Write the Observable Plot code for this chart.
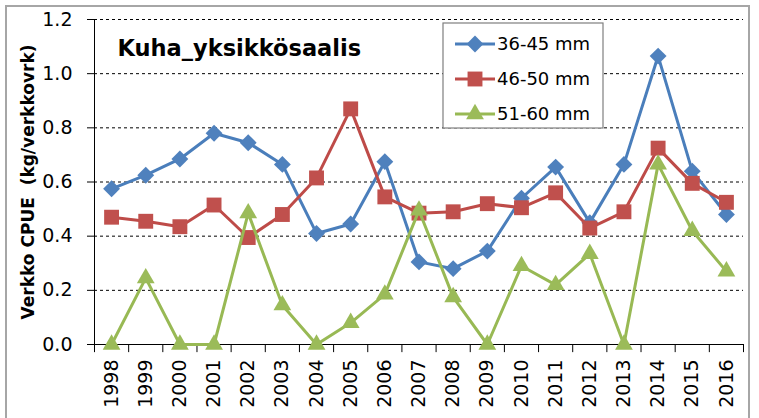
<!DOCTYPE html>
<html>
<head>
<meta charset="utf-8">
<script src="https://cdn.jsdelivr.net/npm/d3@7"></script>
<script src="https://cdn.jsdelivr.net/npm/@observablehq/plot@0.6"></script>
<style>
  html, body { margin: 0; padding: 0; background: #fff; }
  #wrap { position: relative; width: 759px; height: 418px; overflow: hidden; }
  #frame { position: absolute; left: 5px; top: 5px; width: 745px; height: 430px;
           border: 2px solid #a6a6a6; pointer-events: none; box-sizing: border-box; }
</style>
</head>
<body>
<div id="wrap"><div id="frame"></div></div>
<script>
const years = [1998,1999,2000,2001,2002,2003,2004,2005,2006,2007,2008,2009,2010,2011,2012,2013,2014,2015,2016];
const s36_45 = [0.575,0.625,0.685,0.78,0.745,0.665,0.41,0.445,0.675,0.305,0.28,0.345,0.54,0.655,0.45,0.665,1.065,0.64,0.48];
const s46_50 = [0.47,0.455,0.435,0.515,0.395,0.48,0.615,0.87,0.545,0.485,0.49,0.52,0.505,0.56,0.43,0.49,0.725,0.595,0.525];
const s51_60 = [0.0,0.245,0.0,0.0,0.485,0.145,0.0,0.08,0.185,0.495,0.175,0.0,0.29,0.22,0.335,0.0,0.665,0.42,0.27];
const seriesNames = ["36-45 mm","46-50 mm","51-60 mm"];
const seriesValues = [s36_45, s46_50, s51_60];
const lineColors = ["#4A7EBB","#BE4B48","#98B954"];
const fillColors = ["#4F81BD","#C0504D","#9BBB59"];
const symbols = ["diamond2","square","triangle"];
const radii = [7.6, 8.4, 6.6];
const yTicks = [0,0.2,0.4,0.6,0.8,1.0,1.2];
const gridTicks = [0.2,0.4,0.6,0.8,1.0,1.2];
const title = "Kuha_yksikkösaalis";
const yLabel = "Verkko CPUE\u00a0\u00a0(kg/verkkovrk)";

const FONT = "DejaVu Sans";
const boundaries = years.map(y => y - 0.5).concat([years[years.length - 1] + 0.5]);
const xDomain = [boundaries[0], boundaries[boundaries.length - 1]];

const seriesMarks = [];
seriesValues.forEach((vals, i) => {
  const rows = years.map((y, j) => ({year: y, value: vals[j]}));
  seriesMarks.push(Plot.line(rows, {x: "year", y: "value", stroke: lineColors[i], strokeWidth: 3, strokeLinejoin: "round"}));
  seriesMarks.push(Plot.dot(rows, {x: "year", y: "value", symbol: () => symbols[i], fill: fillColors[i], stroke: "none", r: radii[i]}));
});

const chart = Plot.plot({
  width: 759,
  height: 418,
  marginLeft: 94,
  marginRight: 16,
  marginTop: 19,
  marginBottom: 74,
  style: {fontFamily: FONT, fontSize: "19px", background: "transparent", overflow: "visible"},
  x: {type: "linear", domain: xDomain, axis: null},
  y: {type: "linear", domain: [0, 1.2], axis: null},
  symbol: {type: "identity"},
  marks: [
    Plot.ruleY(gridTicks, {x1: xDomain[0], x2: xDomain[1], stroke: "#000", strokeWidth: 1, strokeDasharray: "3,3"}),
    Plot.ruleX(boundaries, {y1: 0, y2: -0.03, stroke: "#000", strokeWidth: 1}),
    Plot.ruleX([xDomain[0]], {y1: 0, y2: 1.2, stroke: "#000", strokeWidth: 1}),
    Plot.ruleY([0], {x1: xDomain[0], x2: xDomain[1], stroke: "#000", strokeWidth: 1}),
    Plot.axisY({ticks: yTicks, tickFormat: d3.format(".1f"), tickSize: 7, tickPadding: 15, label: null, fontSize: 19, fontFamily: FONT, stroke: "#000"}),
    Plot.axisX({ticks: years, tickFormat: d => String(d), tickSize: 0, tickPadding: 15, tickRotate: -90, label: null, fontSize: 19, fontFamily: FONT}),
    ...seriesMarks,
    Plot.text([yLabel], {frameAnchor: "left", dx: -66, rotate: -90, textAnchor: "middle", fontWeight: "bold", fontSize: 17, fontFamily: FONT, fill: "#000"}),
    Plot.text([title], {frameAnchor: "top-left", dx: 23, dy: 29, textAnchor: "start", lineAnchor: "middle", fontWeight: "bold", fontSize: 22.5, fontFamily: FONT, fill: "#000"})
  ]
});

document.getElementById("wrap").insertBefore(chart, document.getElementById("frame"));

// Legend box drawn inside the chart SVG
const svg = d3.select(chart);
const lg = svg.append("g").attr("transform", "translate(443,23)");
lg.append("rect").attr("x", 0).attr("y", 0).attr("width", 160).attr("height", 105)
  .attr("fill", "#fff").attr("stroke", "#7f7f7f").attr("stroke-width", 1.2);
const symMap = {diamond2: d3.symbolDiamond2, square: d3.symbolSquare, triangle: d3.symbolTriangle};
seriesNames.forEach((name, i) => {
  const cy = 21 + i * 35;
  const row = lg.append("g").attr("transform", `translate(0,${cy})`);
  row.append("line").attr("x1", 12).attr("x2", 52).attr("y1", 0).attr("y2", 0)
    .attr("stroke", lineColors[i]).attr("stroke-width", 3);
  row.append("path").attr("transform", "translate(32,0)")
    .attr("d", d3.symbol(symMap[symbols[i]], Math.PI * radii[i] * radii[i])())
    .attr("fill", fillColors[i]);
  row.append("text").attr("x", 54).attr("y", 0).attr("dy", "0.35em")
    .attr("text-anchor", "start")
    .attr("font-family", FONT).attr("font-size", 18).attr("fill", "#000").text(name);
});
</script>
</body>
</html>
